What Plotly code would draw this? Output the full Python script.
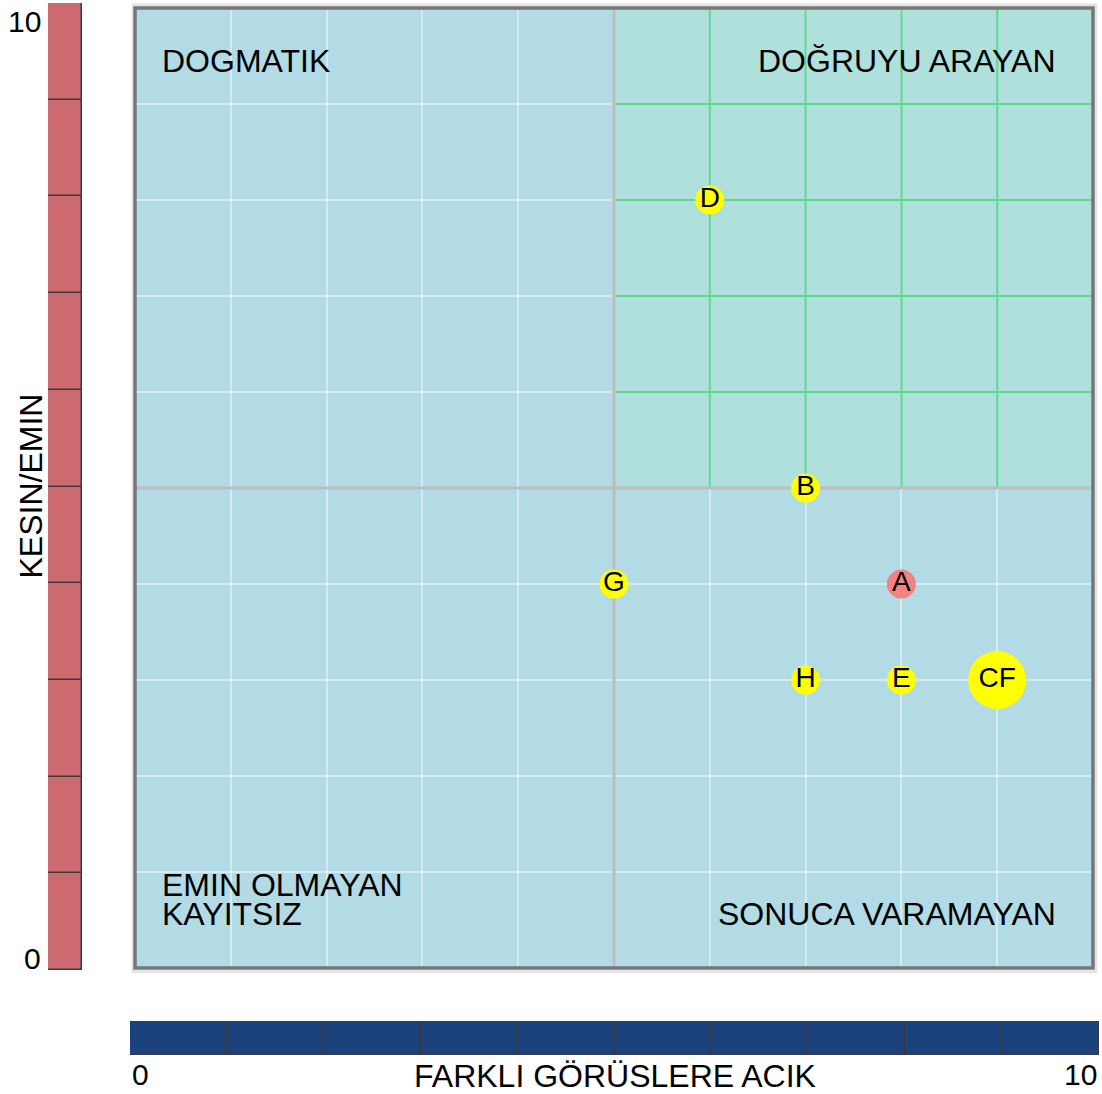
import numpy as np
import plotly.graph_objects as go

# ---- data ----
labels = ["D", "B", "G", "A", "H", "E", "CF"]
x_open = [6, 7, 5, 8, 7, 8, 9]          # FARKLI GÖRÜSLERE ACIK
y_certain = [8, 5, 4, 4, 3, 3, 3]       # KESIN/EMIN
counts = [1, 1, 1, 1, 1, 1, 2]
highlight = "A"
scale_segments = [1, 1, 1, 1, 1, 1, 1, 1, 1, 1]
scale_min, scale_max = 0, 10
quadrant_labels = {
    "tl": "DOGMATIK",
    "tr": "DOĞRUYU ARAYAN",
    "bl1": "EMIN OLMAYAN",
    "bl2": "KAYITSIZ",
    "br": "SONUCA VARAMAYAN",
}
y_title = "KESIN/EMIN"
x_title = "FARKLI GÖRÜSLERE ACIK"

# ---- styles ----
FONT = "Liberation Sans, Arial, sans-serif"
W, H = 1102, 1094
BLUE_BG = "#b2dbe5"
GREEN_BG = "#afe0dc"
GREEN_GRID = "#5ad890"
CENTER = "#bdbdbd"
RED_BAR = "#cd6a70"
NAVY_BAR = "#1c427d"
SEG_LINE = "#3a3a3a"

def px_x(a, b):
    return [a / W, b / W]

def px_y(top, bottom):
    return [(H - bottom) / H, (H - top) / H]

main_x = px_x(135, 1093)
main_y = px_y(8, 968)
left_x = px_x(48, 82)
left_y = px_y(3, 970)
bot_x = px_x(130, 1099)
bot_y = px_y(1021, 1055)

bases = list(np.cumsum([0] + scale_segments[:-1]))
mid = (scale_min + scale_max) / 2

fig = go.Figure()

# left vertical scale bar
fig.add_trace(go.Bar(
    x=[0] * len(scale_segments), y=scale_segments, base=bases, width=1,
    marker=dict(color=RED_BAR, line=dict(color=SEG_LINE, width=1.5)),
    xaxis="x2", yaxis="y2", hoverinfo="skip", showlegend=False))

# bottom horizontal scale bar
fig.add_trace(go.Bar(
    y=[0] * len(scale_segments), x=scale_segments, base=bases, width=1,
    orientation="h",
    marker=dict(color=NAVY_BAR, line=dict(color=SEG_LINE, width=1.5)),
    xaxis="x3", yaxis="y3", hoverinfo="skip", showlegend=False))

# points
sizes = [29 if c == 1 else 58 for c in counts]
colors = ["#f48282" if l == highlight else "#ffff00" for l in labels]
fig.add_trace(go.Scatter(
    x=x_open, y=y_certain, text=labels, mode="markers+text",
    textposition="middle center",
    textfont=dict(family=FONT, size=28, color="black"),
    marker=dict(size=sizes, color=colors, line=dict(width=0), opacity=1),
    cliponaxis=False, hoverinfo="text", showlegend=False,
    xaxis="x", yaxis="y"))

shapes = []
# green quadrant
shapes.append(dict(type="rect", xref="x", yref="y", x0=mid, x1=scale_max,
                   y0=mid, y1=scale_max, fillcolor=GREEN_BG, line=dict(width=0),
                   layer="below"))
# green grid lines inside quadrant
for v in range(int(mid) + 1, scale_max + 1):
    shapes.append(dict(type="line", xref="x", yref="y", x0=v, x1=v, y0=mid,
                       y1=scale_max, line=dict(color=GREEN_GRID, width=2),
                       layer="between"))
    shapes.append(dict(type="line", xref="x", yref="y", x0=mid, x1=scale_max,
                       y0=v, y1=v, line=dict(color=GREEN_GRID, width=2),
                       layer="between"))
# center lines
shapes.append(dict(type="line", xref="x", yref="y", x0=mid, x1=mid,
                   y0=scale_min, y1=scale_max, line=dict(color=CENTER, width=3),
                   layer="between"))
shapes.append(dict(type="line", xref="x", yref="y", x0=scale_min, x1=scale_max,
                   y0=mid, y1=mid, line=dict(color=CENTER, width=3),
                   layer="between"))
# shadow + border
shapes.append(dict(type="rect", xref="x domain", yref="y domain",
                   x0=-0.002, x1=1.003, y0=-0.004, y1=1.003,
                   line=dict(color="#e4e4e4", width=3), fillcolor="rgba(0,0,0,0)",
                   layer="above"))
shapes.append(dict(type="rect", xref="x domain", yref="y domain",
                   x0=0, x1=1, y0=0, y1=1,
                   line=dict(color="#767676", width=3.5), fillcolor="rgba(0,0,0,0)",
                   layer="above"))

qf = dict(family=FONT, size=32, color="black")
tf = dict(family=FONT, size=32, color="black")
nf = dict(family=FONT, size=30, color="black")
annotations = [
    dict(text=quadrant_labels["tl"], xref="x domain", yref="y domain", x=0, y=1,
         xanchor="left", yanchor="middle", xshift=25, yshift=-53, showarrow=False, font=qf),
    dict(text=quadrant_labels["tr"], xref="x domain", yref="y domain", x=1, y=1,
         xanchor="right", yanchor="middle", xshift=-35, yshift=-53, showarrow=False, font=qf),
    dict(text=quadrant_labels["bl1"], xref="x domain", yref="y domain", x=0, y=0,
         xanchor="left", yanchor="middle", xshift=25, yshift=83, showarrow=False, font=qf),
    dict(text=quadrant_labels["bl2"], xref="x domain", yref="y domain", x=0, y=0,
         xanchor="left", yanchor="middle", xshift=25, yshift=54, showarrow=False, font=qf),
    dict(text=quadrant_labels["br"], xref="x domain", yref="y domain", x=1, y=0,
         xanchor="right", yanchor="middle", xshift=-35, yshift=54, showarrow=False, font=qf),
    # left scale labels
    dict(text=str(scale_max), xref="x2 domain", yref="y2", x=0, y=scale_max,
         xanchor="right", yanchor="top", xshift=-5, yshift=0, showarrow=False, font=nf),
    dict(text=str(scale_min), xref="x2 domain", yref="y2", x=0, y=scale_min,
         xanchor="right", yanchor="bottom", xshift=-5, yshift=-7, showarrow=False, font=nf),
    dict(text=y_title, xref="paper", yref="y2", x=30 / W, y=mid, textangle=-90,
         xanchor="center", yanchor="middle", showarrow=False, font=tf),
    # bottom scale labels
    dict(text=str(scale_min), xref="x3", yref="y3 domain", x=scale_min, y=0,
         xanchor="left", yanchor="top", yshift=-1, showarrow=False, font=nf),
    dict(text=str(scale_max), xref="x3", yref="y3 domain", x=scale_max, y=0,
         xanchor="right", yanchor="top", yshift=-1, showarrow=False, font=nf),
    dict(text=x_title, xref="x3", yref="y3 domain", x=mid, y=0,
         xanchor="center", yanchor="top", yshift=-1, showarrow=False, font=tf),
]

hidden = dict(showgrid=False, zeroline=False, showticklabels=False, ticks="",
              showline=False, fixedrange=True)
grid = dict(showgrid=True, gridcolor="rgba(255,255,255,0.45)", gridwidth=2,
            dtick=1, zeroline=False, showticklabels=False, ticks="",
            showline=False, fixedrange=True)

fig.update_layout(
    width=W, height=H,
    margin=dict(l=0, r=0, t=0, b=0),
    paper_bgcolor="white", plot_bgcolor=BLUE_BG,
    barmode="overlay", bargap=0,
    xaxis=dict(domain=main_x, range=[scale_min, scale_max], **grid),
    yaxis=dict(domain=main_y, range=[scale_min, scale_max], **grid),
    xaxis2=dict(domain=left_x, range=[-0.5, 0.5], anchor="y2", **hidden),
    yaxis2=dict(domain=left_y, range=[scale_min, scale_max], anchor="x2", **hidden),
    xaxis3=dict(domain=bot_x, range=[scale_min, scale_max], anchor="y3", **hidden),
    yaxis3=dict(domain=bot_y, range=[-0.5, 0.5], anchor="x3", **hidden),
    shapes=shapes, annotations=annotations,
    font=dict(family=FONT),
)

fig.write_html(
    "out.html",
    config={"displayModeBar": False},
    post_script="document.body.style.margin='0';document.body.style.overflow='hidden';",
)
